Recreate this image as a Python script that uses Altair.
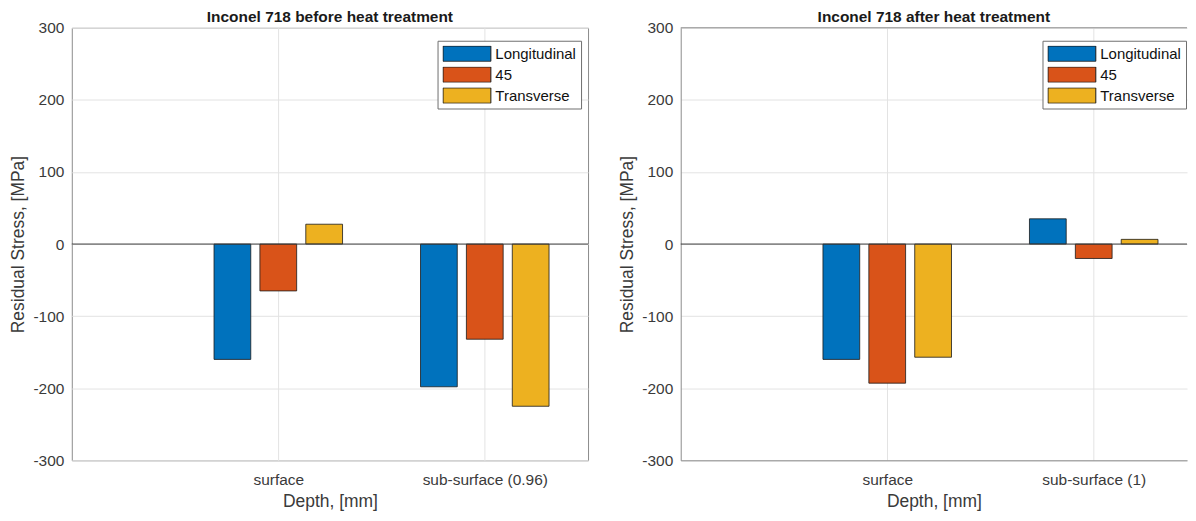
import altair as alt
import pandas as pd

# ---- data ----
series = ["Longitudinal", "45", "Transverse"]
series_colors = ["#0072BD", "#D95319", "#EDB120"]

before_title = "Inconel 718 before heat treatment"
before_categories = ["surface", "sub-surface (0.96)"]
before_longitudinal = [-160, -198]
before_45 = [-65, -132]
before_transverse = [27.5, -225]

after_title = "Inconel 718 after heat treatment"
after_categories = ["surface", "sub-surface (1)"]
after_longitudinal = [-160, 35]
after_45 = [-193, -20]
after_transverse = [-157, 6.5]

y_ticks = [-300, -200, -100, 0, 100, 200, 300]

FONT = "Liberation Sans"
TEXT = "#3a3a3a"
FRAME = "#8c8c8c"


def panel(title, categories, values, width, x_max, full_frame, legend_x):
    rows = []
    for s_i, (name, vals) in enumerate(zip(series, values)):
        for c_i, (cat, v) in enumerate(zip(categories, vals)):
            rows.append({"group": c_i + 1, "slot": s_i, "series": name,
                         "category": cat, "value": v})
    df = pd.DataFrame(rows)

    label_expr = " : ".join(
        f"datum.value == {i + 1} ? '{c}'" for i, c in enumerate(categories)
    ) + " : ''"

    base = alt.Chart(df).transform_calculate(
        center="datum.group + (datum.slot - 1) * 0.2222"
    ).transform_calculate(
        x_left="datum.center - 0.089", x_right="datum.center + 0.089"
    )

    bars = base.mark_bar(stroke="#1a1a1a", strokeWidth=0.8, opacity=1).encode(
        x=alt.X("x_left:Q",
                scale=alt.Scale(domain=[0, x_max], nice=False, zero=False),
                axis=alt.Axis(values=[1, 2], labelExpr=label_expr,
                              title="Depth, [mm]", grid=True,
                              labelPadding=12, titlePadding=4.5,
                              domain=not full_frame, domainColor=FRAME)),
        x2="x_right:Q",
        y=alt.Y("value:Q",
                scale=alt.Scale(domain=[-300, 300], nice=False),
                axis=alt.Axis(values=y_ticks, title="Residual Stress, [MPa]",
                              labelExpr="'' + datum.value",
                              labelPadding=8, titlePadding=5.5,
                              domain=not full_frame, domainColor=FRAME)),
        y2=alt.datum(0),
        color=alt.Color("series:N",
                        scale=alt.Scale(domain=series, range=series_colors),
                        legend=alt.Legend(
                            title=None, orient="none", legendX=legend_x,
                            legendY=13,
                            symbolType="M-1,-0.32H1V0.32H-1Z", symbolSize=2304,
                            clipHeight=16, rowPadding=5, padding=5,
                            labelOffset=4, labelFontSize=15, labelFont=FONT,
                            labelColor="#111111", fillColor="white",
                            strokeColor="#6e6e6e",
                            symbolStrokeColor="#1a1a1a", symbolStrokeWidth=1,
                            symbolOpacity=1)),
    )

    zero = alt.Chart(pd.DataFrame({"v": [0]})).mark_rule(
        color="#3c3c3c", strokeWidth=1
    ).encode(y="v:Q")

    layers = [bars, zero]
    props = dict(
        width=width, height=434,
        title=alt.TitleParams(title, fontSize=15.5, fontWeight="bold",
                              font=FONT, color="#1a1a1a", anchor="middle",
                              offset=-4.3),
    )
    if not full_frame:
        top = alt.Chart(pd.DataFrame({"v": [0]})).mark_rule(
            color=FRAME, strokeWidth=1
        ).encode(y=alt.value(0))
        layers.append(top)
        props["view"] = alt.ViewBackground(stroke=None)
    return alt.layer(*layers).properties(**props)


left = panel(before_title, before_categories,
             [before_longitudinal, before_45, before_transverse],
             518, 2.5, True, 367)
right = panel(after_title, after_categories,
              [after_longitudinal, after_45, after_transverse],
              508, 2.4517, False, 363)

chart = alt.hconcat(left, right, spacing=29).resolve_scale(
    x="independent", y="independent", color="independent"
).resolve_legend(color="independent").properties(
    padding={"left": 0, "top": 0, "right": 0, "bottom": 0}
).configure_view(
    stroke=FRAME, strokeWidth=1
).configure_axis(
    labelFont=FONT, titleFont=FONT, labelFontSize=15.5, titleFontSize=17.5,
    titleFontWeight="normal", labelColor=TEXT, titleColor=TEXT,
    ticks=False, gridColor="#e3e3e3", gridWidth=1,
)

chart.save("out.html", embed_options={"renderer": "svg", "actions": False})
